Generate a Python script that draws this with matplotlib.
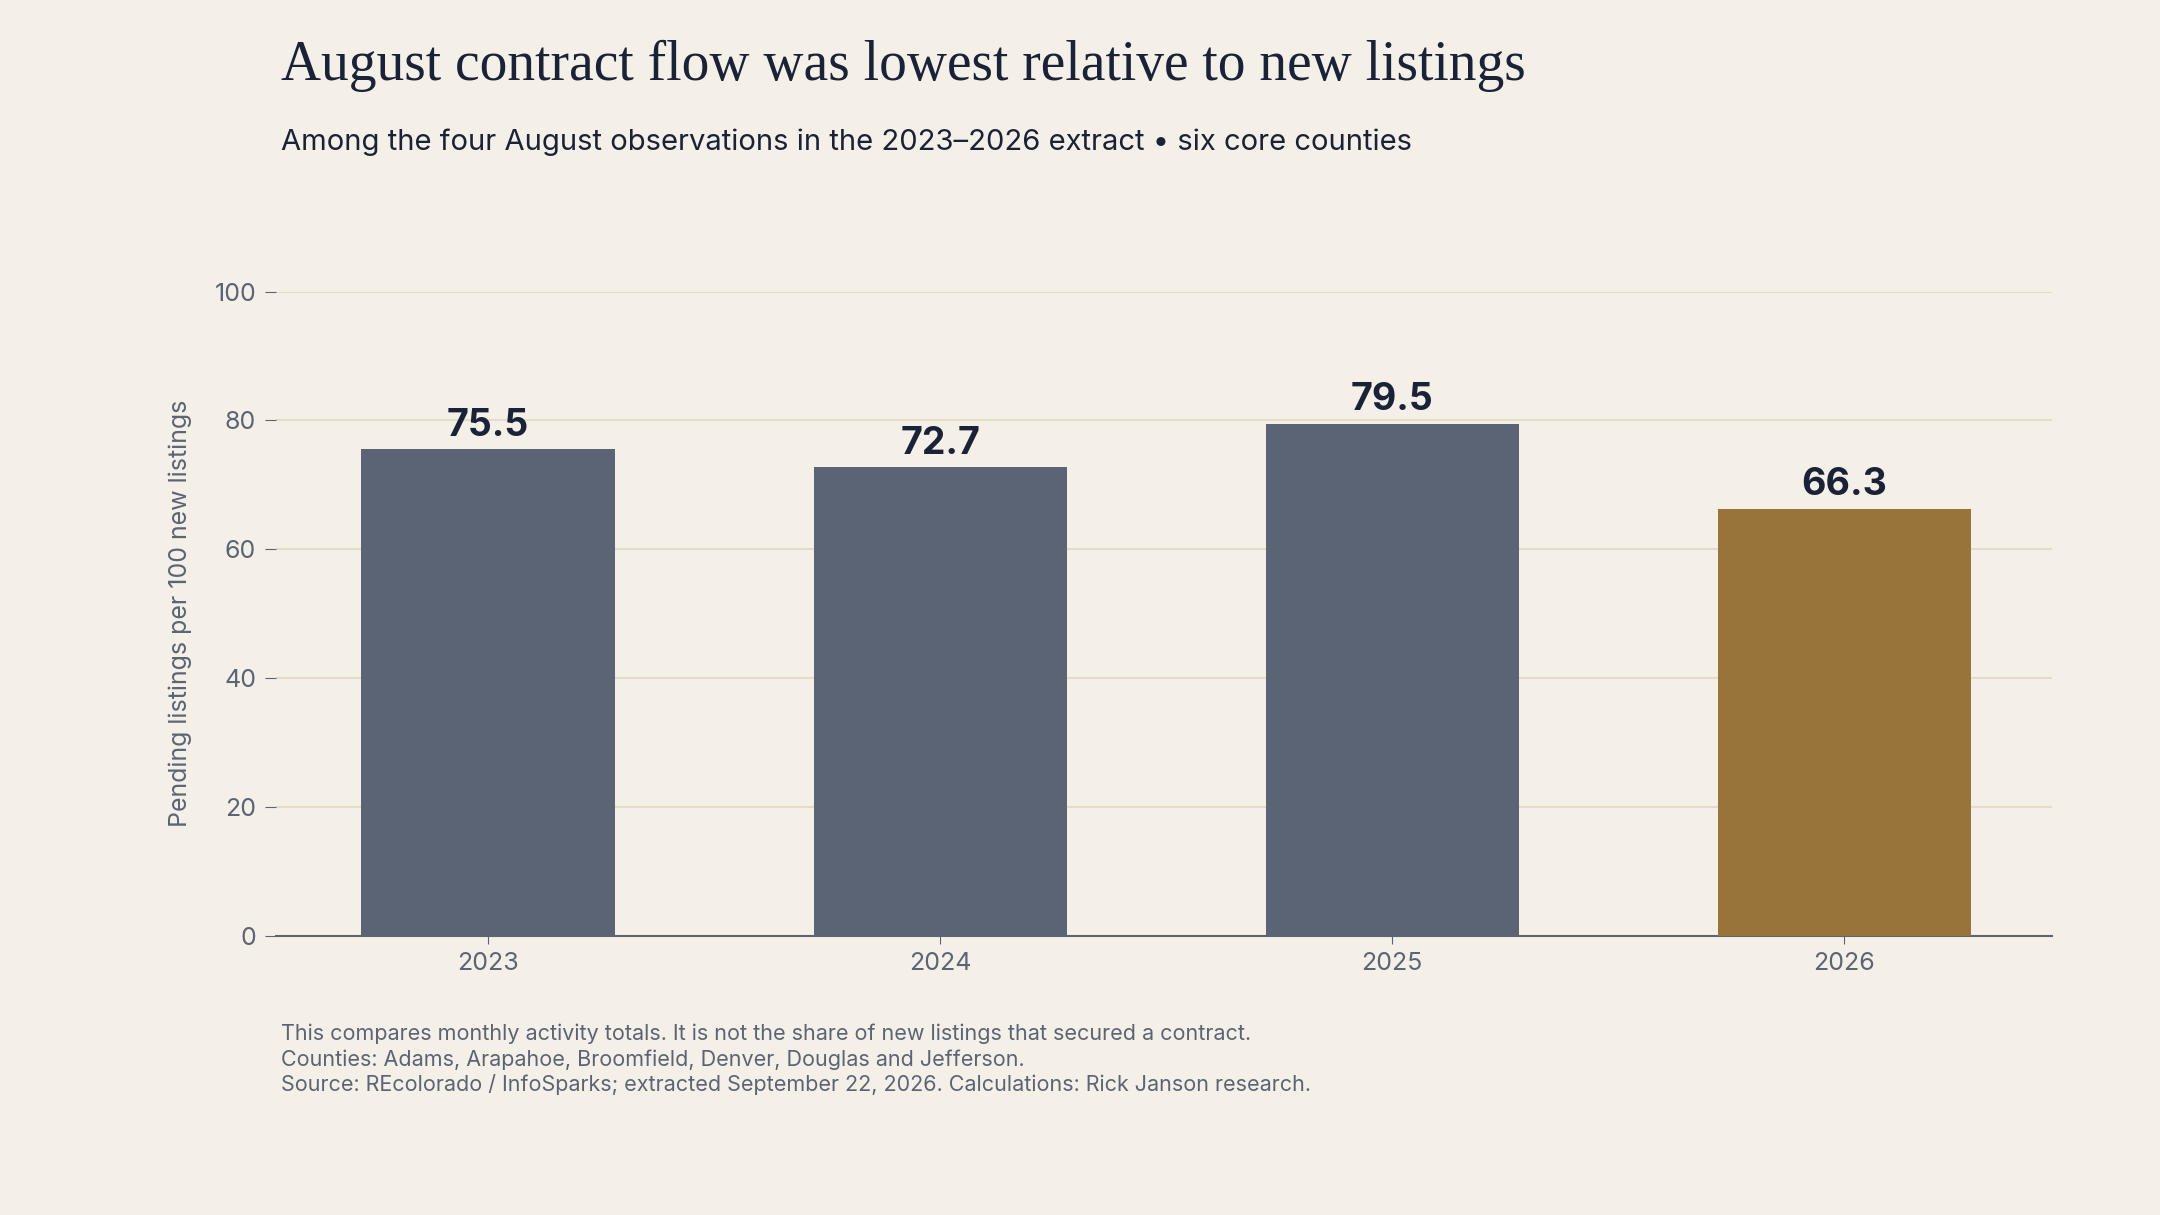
import matplotlib
matplotlib.use("Agg")
import matplotlib.pyplot as plt

years = ["2023", "2024", "2025", "2026"]
values = [75.5, 72.7, 79.5, 66.3]
colors = ["#5b6475", "#5b6475", "#5b6475", "#98733a"]
yticks = [0, 20, 40, 60, 80, 100]

bg = "#f4f0e8"
plt.rcParams['font.family'] = ['Inter', 'DejaVu Sans']
fig = plt.figure(figsize=(21.6, 12.15), dpi=100, facecolor=bg)
ax = fig.add_axes([0.1276, 0.230, 0.8224, 0.530], facecolor=bg)
x = range(len(years))
ax.bar(x, values, width=0.56, color=colors, zorder=3)
for i, v in zip(x, values):
    ax.text(i, v + 0.8, f"{v:.1f}", ha="center", va="bottom", fontsize=27,
            fontweight="bold", color="#1a2238", zorder=4)
ax.set_xlim(-0.47, 3.46)
ax.set_ylim(0, 100)
ax.set_yticks(yticks)
ax.set_xticks(list(x))
ax.set_xticklabels(years)
ax.grid(axis="y", color="#e4dcc8", linewidth=1.5, zorder=0)
for s in ["top", "right", "left"]:
    ax.spines[s].set_visible(False)
ax.spines["bottom"].set_color("#5b6475")
ax.spines["bottom"].set_linewidth(1.5)
ax.tick_params(axis="y", length=8, color="#5b6475", labelsize=18, labelcolor="#5b6475", pad=6)
ax.tick_params(axis="x", length=6, color="#5b6475", labelsize=18, labelcolor="#5b6475", pad=6)
ax.set_ylabel("Pending listings per 100 new listings", fontsize=18, color="#5b6475", labelpad=16)

fig.text(0.130, 0.946, "August contract flow was lowest relative to new listings",
         family=["Liberation Serif", "DejaVu Serif"], fontsize=40, color="#1a2238", va="center")
fig.text(0.130, 0.883, "Among the four August observations in the 2023–2026 extract • six core counties",
         fontsize=21, color="#1a2238", va="center")
notes = ["This compares monthly activity totals. It is not the share of new listings that secured a contract.",
         "Counties: Adams, Arapahoe, Broomfield, Denver, Douglas and Jefferson.",
         "Source: REcolorado / InfoSparks; extracted September 22, 2026. Calculations: Rick Janson research."]
for yy, t in zip([0.149, 0.128, 0.107], notes):
    fig.text(0.130, yy, t, fontsize=15.5, color="#5b6475", va="center")
fig.savefig("out.png", facecolor=bg)
